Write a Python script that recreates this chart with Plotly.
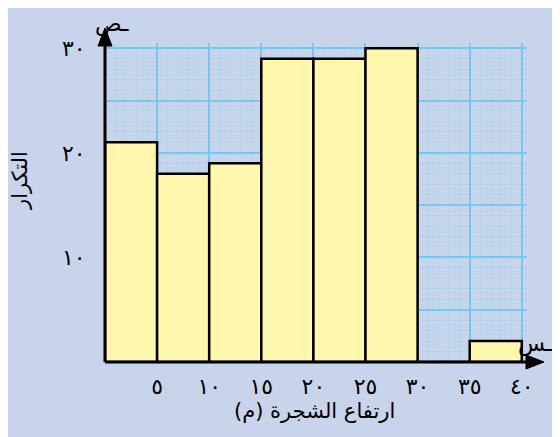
import plotly.graph_objects as go

# Data
bin_starts = [0, 5, 10, 15, 20, 25, 30, 35]
bin_width = 5
frequencies = [21, 18, 19, 29, 29, 30, 0, 2]
x_tick_vals = [5, 10, 15, 20, 25, 30, 35, 40]
x_tick_text = ["٥", "١٠", "١٥", "٢٠", "٢٥", "٣٠", "٣٥", "٤٠"]
y_tick_vals = [0, 5, 10, 15, 20, 25, 30]
y_tick_text = ["", "", "١٠", "", "٢٠", "", "٣٠"]
x_title = "ارتفاع الشجرة (م)"
y_title = "التكرار"

BG = "#c8d4ea"
MAJOR = "#72c9f2"
MINOR = "#a6d8f2"
BAR = "#fff7ae"
FONT = "DejaVu Sans"

mids = [s + bin_width / 2 for s in bin_starts]

OFF = 8  # page body offset
L, R, T, B = 97, 41, 35, 83
PW, PH = 560 - L - R, 437 - T - B

fig = go.Figure()
fig.add_trace(go.Bar(
    x=mids, y=frequencies, width=[bin_width] * len(mids),
    marker=dict(color=BAR, line=dict(color="black", width=2.5)),
    hoverinfo="skip",
))

fig.update_layout(
    width=560, height=437,
    margin=dict(l=L, r=R, t=T, b=B, autoexpand=False),
    paper_bgcolor=BG, plot_bgcolor=BG,
    showlegend=False,
    font=dict(family=FONT, color="black"),
    xaxis=dict(
        range=[0, 40.5], tickmode="array", tickvals=x_tick_vals, ticktext=x_tick_text,
        showgrid=True, gridcolor=MAJOR, gridwidth=1.5, zeroline=False, showline=False,
        automargin=False,
        ticks="outside", ticklen=5, tickcolor="rgba(0,0,0,0)", tickfont=dict(size=22),
        minor=dict(tickmode="linear", tick0=0, dtick=1, showgrid=True, gridcolor=MINOR, gridwidth=1),
    ),
    yaxis=dict(
        range=[0, 30.5], tickmode="array", tickvals=y_tick_vals, ticktext=y_tick_text,
        showgrid=True, gridcolor=MAJOR, gridwidth=1.5, zeroline=False, showline=False,
        automargin=False,
        ticks="outside", ticklen=14, tickcolor="rgba(0,0,0,0)", tickfont=dict(size=22),
        minor=dict(tickmode="linear", tick0=0, dtick=1, showgrid=True, gridcolor=MINOR, gridwidth=1),
    ),
)

def px_x(p):
    return (p - OFF - L) / PW

def px_y(p):
    return (437 - B - (p - OFF)) / PH

# axis lines
fig.add_shape(type="line", xref="paper", yref="paper", x0=0, y0=0, x1=0, y1=px_y(40),
              line=dict(color="black", width=3), layer="above")
fig.add_shape(type="line", xref="paper", yref="paper", x0=0, y0=0, x1=px_x(532), y1=0,
              line=dict(color="black", width=3), layer="above")
# arrow heads
fig.add_shape(type="path", xref="paper", yref="paper",
              path=f"M {px_x(98)} {px_y(46)} L {px_x(105)} {px_y(28)} L {px_x(112)} {px_y(46)} Z",
              fillcolor="black", line=dict(color="black", width=1), layer="above")
fig.add_shape(type="path", xref="paper", yref="paper",
              path=f"M {px_x(526)} {px_y(355)} L {px_x(544)} {px_y(362)} L {px_x(526)} {px_y(369)} Z",
              fillcolor="black", line=dict(color="black", width=1), layer="above")

def label(text, x, y, size, angle=0):
    fig.add_annotation(xref="paper", yref="paper", x=px_x(x), y=px_y(y),
                       xanchor="center", yanchor="middle", text=text,
                       showarrow=False, textangle=angle, font=dict(size=size))

# axis letters
label("ـص", 112, 24, 22)
label("ـس", 535, 344, 22)
# titles
label(x_title, 314, 411, 21)
label(y_title, 20, 181, 21, angle=-90)

fig.write_html("out.html")
